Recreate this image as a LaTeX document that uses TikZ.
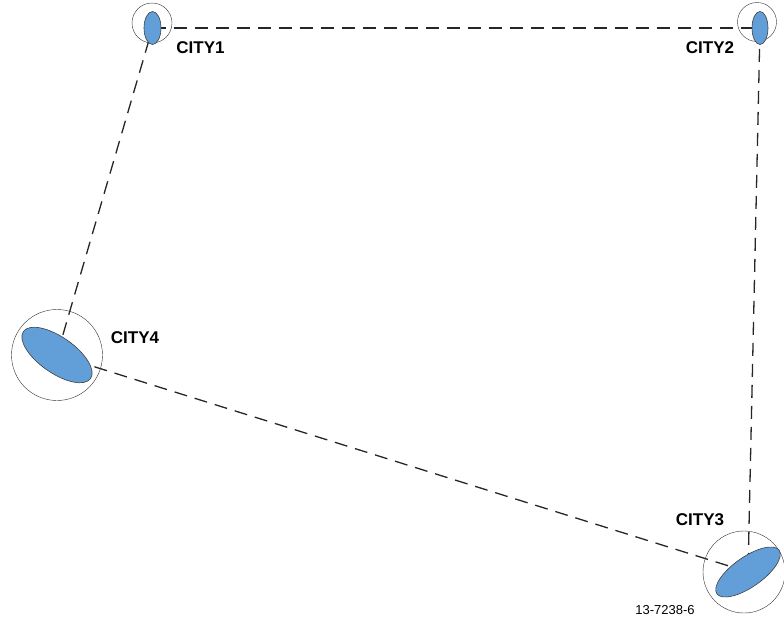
\documentclass[tikz,border=0pt]{standalone}
\usepackage{fontspec}
\setmainfont{Liberation Sans}
\usetikzlibrary{shapes.geometric}
\usetikzlibrary{backgrounds}
\definecolor{cityblue}{RGB}{98,158,216}
\tikzstyle{ring}=[circle, draw=black!80, thin, inner sep=0pt]
\tikzstyle{blob}=[ellipse, fill=cityblue, draw=black!75, semithick, inner sep=0pt]
\tikzstyle{route}=[draw=black!85, line width=1.3pt, dash pattern=on 13pt off 8pt]
\tikzstyle{cityname}=[font=\fontsize{17}{20}\selectfont\bfseries, inner sep=0pt]

\begin{document}
\begin{tikzpicture}[x=1pt, y=-1pt]
    \useasboundingbox (0,0) rectangle (784,619);
    % stations
    \node[ring] (ring1) at (152,23)  [minimum size=40pt] {};
    \node[ring] (ring2) at (757,22)  [minimum size=39pt] {};
    \node[ring] (ring3) at (744,572) [minimum size=82pt] {};
    \node[ring] (ring4) at (57,355)  [minimum size=91pt] {};

    \node[blob] (city1) at (152.5,28) [minimum width=17pt, minimum height=33pt] {};
    \node[blob] (city2) at (760,28)   [minimum width=16pt, minimum height=33pt] {};
    \node[blob] (city3) at (748,572)  [minimum width=76pt, minimum height=30pt, rotate=35] {};
    \node[blob] (city4) at (57,355)   [minimum width=82pt, minimum height=36pt, rotate=-35] {};

    % names
    \node[cityname] (name1) at (200.5,48) {CITY1};
    \node[cityname] (name2) at (710,48)   {CITY2};
    \node[cityname] (name3) at (700,520)  {CITY3};
    \node[cityname] (name4) at (135,338)  {CITY4};
    \node[font=\fontsize{13}{15}\selectfont] (figno) at (665,610) {13-7238-6};

    \begin{pgfonlayer}{background}
        \draw[route] (city1.center) -- (city2.center);
        \draw[route] (city2.center) -- (city3.center);
        \draw[route] (city3.center) -- (city4.center);
        \draw[route] (city4.center) -- (city1.center);
    \end{pgfonlayer}
\end{tikzpicture}
\end{document}
